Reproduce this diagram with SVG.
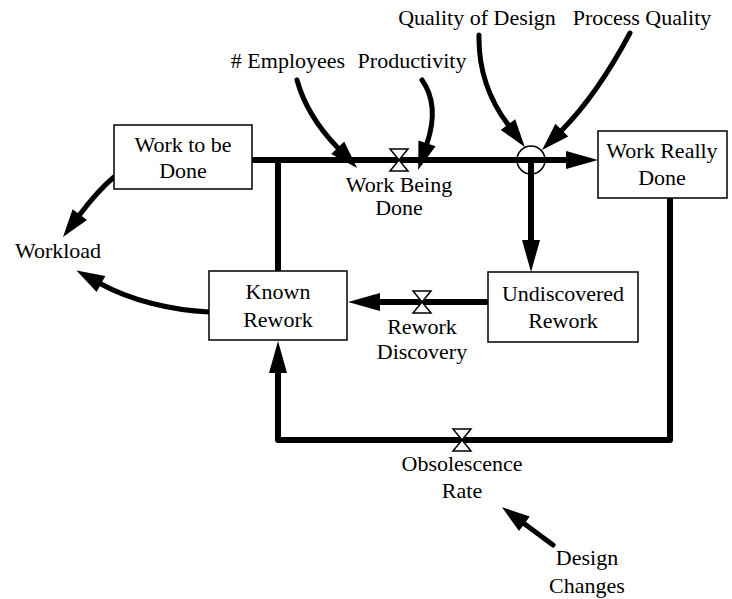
<svg xmlns="http://www.w3.org/2000/svg" xmlns:xlink="http://www.w3.org/1999/xlink" width="732" height="599" viewBox="0 0 732 599">
<style>
.t{font-size:22px;fill:#000;text-anchor:middle}
.box{fill:#fff;stroke:#000;stroke-width:1.5}
.flow{fill:none;stroke:#000;stroke-width:6;stroke-linecap:butt;stroke-linejoin:round}
.link{fill:none;stroke:#000;stroke-width:5;stroke-linecap:round}
.valve{fill:#fff;stroke:#000;stroke-width:1.5}
</style>
<defs>
<marker id="fh" markerUnits="userSpaceOnUse" markerWidth="34" markerHeight="20" refX="0" refY="9" orient="auto" overflow="visible"><path d="M0,0 L32,9 L0,18 Z" fill="#000"/></marker>
<marker id="lh" markerUnits="userSpaceOnUse" markerWidth="30" markerHeight="20" refX="0" refY="9" orient="auto" overflow="visible"><path d="M0,0 L28,9 L0,18 Z" fill="#000"/></marker>
<path id="valve" class="valve" d="M-9,-11 H9 L-9,11 H9 Z"/>
</defs>
<g id="connectors">
<path class="flow" d="M252,160 H566" marker-end="url(#fh)"/>
<path class="flow" d="M278,160 V271"/>
<path class="flow" d="M531,160 V240" marker-end="url(#fh)"/>
<path class="flow" d="M488,302 H380" marker-end="url(#fh)"/>
<path class="flow" d="M670,198 V440 H278 V373" marker-end="url(#fh)"/>
<path class="link" d="M297,80 Q306.6,115.4 337.7,147.8" marker-end="url(#lh)"/>
<path class="link" d="M422,80 Q439.8,105 427,143.4" marker-end="url(#lh)"/>
<path class="link" d="M479,35 Q478,84.6 508,124.6" marker-end="url(#lh)"/>
<path class="link" d="M630,33 Q597,94.8 561.8,130.2" marker-end="url(#lh)"/>
<path class="link" d="M114,177 Q97.8,190.6 79.8,214.6" marker-end="url(#lh)"/>
<path class="link" d="M209,312 C170,310 130,300 101,284" marker-end="url(#lh)"/>
<path class="link" d="M553,545 L524.4,523.8" marker-end="url(#lh)"/>
<circle cx="531" cy="160" r="14" fill="none" stroke="#000" stroke-width="1.5"/>
</g>
<g font-family="Liberation Serif, serif">
<g id="work-to-be-done"><rect class="box" x="114" y="125" width="138" height="64"/><text class="t" x="183" y="152">Work to be</text><text class="t" x="183" y="178">Done</text></g>
<g id="work-really-done"><rect class="box" x="598" y="131" width="129" height="67"/><text class="t" x="662" y="158">Work Really</text><text class="t" x="662" y="185">Done</text></g>
<g id="known-rework"><rect class="box" x="209" y="271" width="138" height="69"/><text class="t" x="278" y="299">Known</text><text class="t" x="278" y="327">Rework</text></g>
<g id="undiscovered-rework"><rect class="box" x="488" y="272" width="150" height="70"/><text class="t" x="563" y="301">Undiscovered</text><text class="t" x="563" y="328">Rework</text></g>
<g id="work-being-done"><use xlink:href="#valve" href="#valve" x="399" y="160"/><text class="t" x="399" y="192">Work Being</text><text class="t" x="399" y="215">Done</text></g>
<g id="rework-discovery"><use xlink:href="#valve" href="#valve" x="422" y="302"/><text class="t" x="422" y="334">Rework</text><text class="t" x="422" y="359">Discovery</text></g>
<g id="obsolescence-rate"><use xlink:href="#valve" href="#valve" x="462" y="440"/><text class="t" x="462" y="471">Obsolescence</text><text class="t" x="462" y="498">Rate</text></g>
<g id="workload"><text class="t" x="58" y="258">Workload</text></g>
<g id="employees"><text class="t" x="288" y="68"># Employees</text></g>
<g id="productivity"><text class="t" x="412" y="68">Productivity</text></g>
<g id="quality-of-design"><text class="t" x="477" y="25">Quality of Design</text></g>
<g id="process-quality"><text class="t" x="642" y="25">Process Quality</text></g>
<g id="design-changes"><text class="t" x="587" y="565">Design</text><text class="t" x="587" y="593">Changes</text></g>
</g>
</svg>
